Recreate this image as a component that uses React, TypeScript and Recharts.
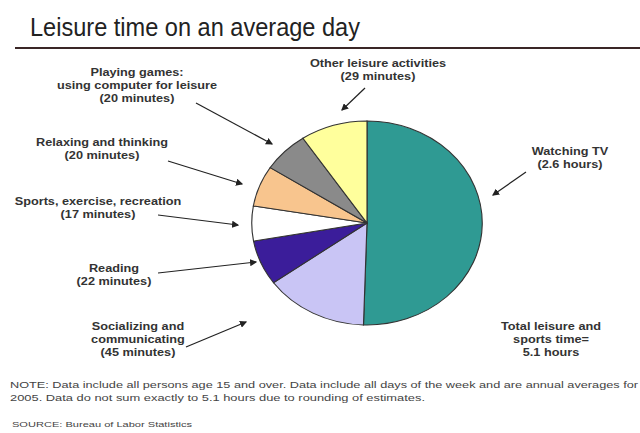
import React from "react";
import { PieChart, Pie, Cell } from "recharts";

const activities = [
  "Watching TV",
  "Socializing and communicating",
  "Reading",
  "Sports, exercise, recreation",
  "Relaxing and thinking",
  "Playing games; using computer for leisure",
  "Other leisure activities",
];
const minutes = [156, 45, 22, 17, 20, 20, 29];
const colors = ["#2f9a93", "#c9c5f5", "#3b1d9a", "#ffffff", "#f8c58e", "#8a8a8a", "#ffff9c"];

// label text lines, anchor centre, arrow from -> to
const callouts = [
  { lines: ["Watching TV", "(2.6 hours)"], x: 570, y: 155, from: [526, 172], to: [493, 195] },
  { lines: ["Socializing and", "communicating", "(45 minutes)"], x: 138, y: 330, from: [186, 347], to: [246, 322] },
  { lines: ["Reading", "(22 minutes)"], x: 114, y: 272, from: [158, 273], to: [256, 262] },
  { lines: ["Sports, exercise, recreation", "(17 minutes)"], x: 98, y: 205, from: [158, 215], to: [238, 225] },
  { lines: ["Relaxing and thinking", "(20 minutes)"], x: 102, y: 146, from: [168, 161], to: [242, 184] },
  { lines: ["Playing games:", "using computer for leisure", "(20 minutes)"], x: 137, y: 76, from: [196, 103], to: [272, 144] },
  { lines: ["Other leisure activities", "(29 minutes)"], x: 378, y: 67, from: [365, 88], to: [342, 110] },
];

const totalLines = ["Total leisure and", "sports time=", "5.1 hours"];
const noteLines = [
  "NOTE: Data include all persons age 15 and over. Data include all days of the week and are annual averages for",
  "2005. Data do not sum exactly to 5.1 hours due to rounding of estimates.",
];
const sourceLine = "SOURCE: Bureau of Labor Statistics";

const data = activities.map((name, i) => ({ name, value: minutes[i] }));

const font = "'Liberation Sans', Arial, sans-serif";
const stretch = 1.27;

function Label({ lines, x, y }: { lines: string[]; x: number; y: number }) {
  return (
    <g transform={`translate(${x},0) scale(${stretch},1) translate(${-x},0)`}>
      <text x={x} y={y} fontSize={10} fontWeight="bold" fill="#333" textAnchor="middle">
        {lines.map((l, j) => (
          <tspan key={j} x={x} dy={j === 0 ? 0 : 13}>
            {l}
          </tspan>
        ))}
      </text>
    </g>
  );
}

export default function App() {
  return (
    <div style={{ position: "absolute", left: 0, top: 0, width: 640, height: 433, background: "#fff", overflow: "hidden" }}>
      <div style={{ position: "absolute", left: 0, top: 0, transform: "scaleX(1.13)", transformOrigin: "367px 223px" }}>
        <PieChart width={640} height={433}>
          <Pie
            data={data}
            dataKey="value"
            cx={362}
            cy={218}
            outerRadius={102}
            startAngle={90}
            endAngle={-270}
            stroke="#333"
            strokeWidth={1}
            isAnimationActive={false}
          >
            {data.map((d, i) => (
              <Cell key={d.name} fill={colors[i]} />
            ))}
          </Pie>
        </PieChart>
      </div>
      <svg width={640} height={433} style={{ position: "absolute", left: 0, top: 0 }} fontFamily={font}>
        <defs>
          <marker id="head" markerWidth="6" markerHeight="6" refX="5" refY="3" orient="auto">
            <path d="M0,0 L6,3 L0,6 z" fill="#222" />
          </marker>
        </defs>
        <text x={30} y={36} fontSize={25} fill="#222" textLength={330} lengthAdjust="spacingAndGlyphs">
          Leisure time on an average day
        </text>
        <line x1={15} y1={48} x2={640} y2={48} stroke="#3a2626" strokeWidth={2} />

        {callouts.map((c) => (
          <g key={c.lines[0]}>
            <Label lines={c.lines} x={c.x} y={c.y} />
            <line
              x1={c.from[0]}
              y1={c.from[1]}
              x2={c.to[0]}
              y2={c.to[1]}
              stroke="#222"
              strokeWidth={1.2}
              markerEnd="url(#head)"
            />
          </g>
        ))}

        <Label lines={totalLines} x={551} y={330} />

        <text x={10} y={388} fontSize={9} fill="#444" textLength={628} lengthAdjust="spacingAndGlyphs">
          {noteLines[0]}
        </text>
        <text x={10} y={401} fontSize={9} fill="#444" textLength={415} lengthAdjust="spacingAndGlyphs">
          {noteLines[1]}
        </text>
        <text x={12} y={427} fontSize={8} fill="#444" textLength={180} lengthAdjust="spacingAndGlyphs">
          {sourceLine}
        </text>
      </svg>
    </div>
  );
}
